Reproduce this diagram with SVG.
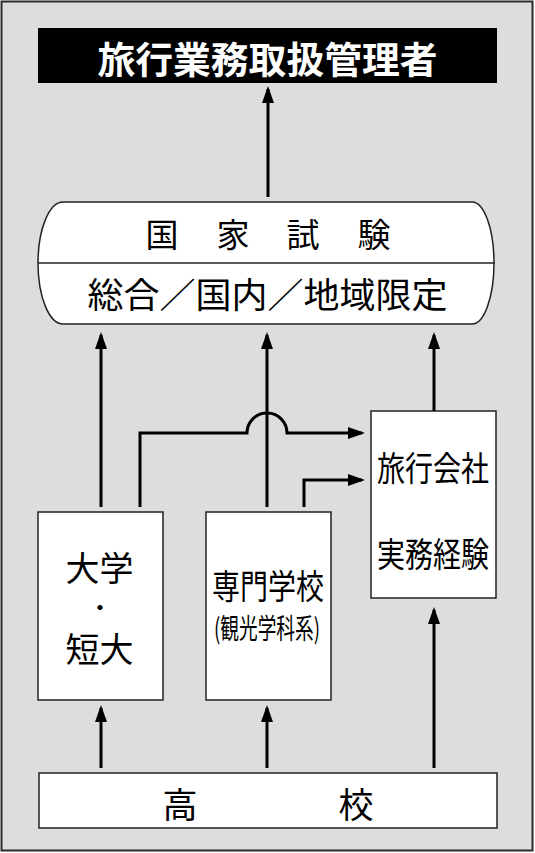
<svg xmlns="http://www.w3.org/2000/svg" width="535" height="853" viewBox="0 0 535 853">
<defs>
<style>
.t{font-family:"Noto Sans CJK JP","Noto Sans CJK SC",sans-serif;fill:#000;text-anchor:middle;dominant-baseline:central}
.box{fill:#fff;stroke:#222;stroke-width:1.5}
.ln{fill:none;stroke:#000;stroke-width:3}
</style>
<marker id="ah" viewBox="0 0 17 12" markerUnits="userSpaceOnUse" markerWidth="17" markerHeight="12" refX="14" refY="6" orient="auto">
<path d="M0,0 L17,6 L0,12 Z" fill="#000"/>
</marker>
</defs>
<rect x="1.5" y="1.5" width="531" height="849" fill="#dcdedd" stroke="#2a2a2a" stroke-width="2"/>
<g id="title">
<rect x="38" y="28" width="459" height="55" fill="#000"/>
<text class="t" x="267.5" y="58" font-size="37" font-weight="bold" style="fill:#fff" textLength="340" lengthAdjust="spacingAndGlyphs">旅行業務取扱管理者</text>
</g>
<g id="exam">
<path class="box" d="M63,202 H472 A22,61 0 0 1 472,324 H63 A25,61 0 0 1 63,202 Z"/>
<line x1="38" y1="263" x2="495" y2="263" stroke="#222" stroke-width="1.5"/>
<text class="t" x="162 233 303 374" y="233" font-size="33">国家試験</text>
<text class="t" x="267.5" y="292" font-size="35" textLength="360" lengthAdjust="spacingAndGlyphs">総合／国内／地域限定</text>
</g>
<g id="univ">
<rect class="box" x="38" y="512" width="125" height="188"/>
<text class="t" x="99.5" y="566" font-size="34">大学</text>
<text class="t" x="100" y="606" font-size="20" font-weight="bold">・</text>
<text class="t" x="99.5" y="647" font-size="34">短大</text>
</g>
<g id="senmon">
<rect class="box" x="206" y="512" width="125" height="188"/>
<text class="t" x="268" y="584" font-size="34" textLength="112" lengthAdjust="spacingAndGlyphs">専門学校</text>
<text class="t" x="267" y="626.5" font-size="28" textLength="106" lengthAdjust="spacingAndGlyphs">(観光学科系)</text>
</g>
<g id="company">
<rect class="box" x="371" y="411" width="125" height="187"/>
<text class="t" x="433" y="466" font-size="34" textLength="112" lengthAdjust="spacingAndGlyphs">旅行会社</text>
<text class="t" x="433" y="552" font-size="34" textLength="112" lengthAdjust="spacingAndGlyphs">実務経験</text>
</g>
<g id="highschool">
<rect class="box" x="39" y="773" width="458" height="55"/>
<text class="t" x="180 356" y="802" font-size="35">高校</text>
</g>
<g id="connectors">
<path class="ln" marker-end="url(#ah)" d="M268,197 V89"/>
<path class="ln" marker-end="url(#ah)" d="M101,507 V335"/>
<path class="ln" marker-end="url(#ah)" d="M267,507 V335"/>
<path class="ln" marker-end="url(#ah)" d="M434,411 V335"/>
<path class="ln" marker-end="url(#ah)" d="M140,507 V433 H247 A20,20 0 0 1 287,433 H362"/>
<path class="ln" marker-end="url(#ah)" d="M304,507 V480 H362"/>
<path class="ln" marker-end="url(#ah)" d="M101,768 V708"/>
<path class="ln" marker-end="url(#ah)" d="M267,768 V708"/>
<path class="ln" marker-end="url(#ah)" d="M434,768 V610"/>
</g>
</svg>
